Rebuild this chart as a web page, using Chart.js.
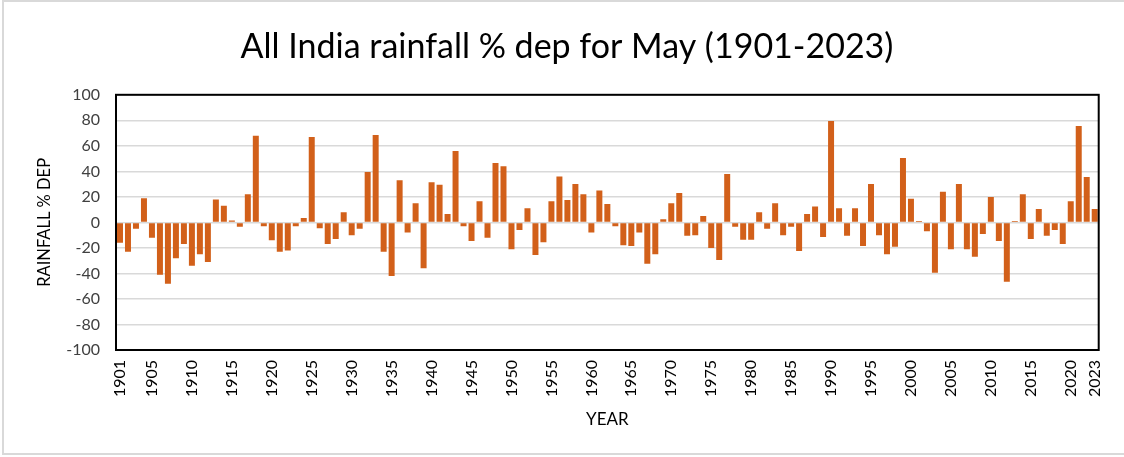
<!DOCTYPE html>
<html>
<head>
<meta charset="utf-8">
<script src="https://cdn.jsdelivr.net/npm/chart.js@4"></script>
<style>
  html, body { margin: 0; padding: 0; background: #fff; }
  #frame {
    position: absolute; left: 2px; top: 0; width: 1124px; height: 455px;
    border-left: 2px solid #d9d9d9; border-top: 2px solid #d9d9d9; border-bottom: 2px solid #d9d9d9;
    box-sizing: border-box;
  }
  #wrap { position: absolute; left: 0; top: 0; width: 1124px; height: 457px; }
</style>
</head>
<body>
<div id="frame"></div>
<div id="wrap"><canvas id="rainChart"></canvas></div>
<script>
// 年份 (1901-2023)
const years = Array.from({ length: 123 }, (_, i) => String(1901 + i));

// 五月全印度降雨距平 (%)，从图上读取的估计值
const depValues = [
  -16, -23, -5, 19, -12, -41, -48, -28, -17, -34,      // 1901-1910
  -25, -31, 18, 13, 1.5, -3.5, 22, 68, -3, -14,        // 1911-1920
  -23, -22, -3, 3.5, 67, -4.5, -17, -13, 8, -10,       // 1921-1930
  -5, 39.5, 68.5, -23, -42, 33, -8, 15, -36, 31.5,     // 1931-1940
  29.5, 6.5, 56, -3, -14.5, 16.5, -12, 46.5, 44, -21,  // 1941-1950
  -6, 11, -25.5, -15.5, 16.5, 36, 17.5, 30, 22, -8,    // 1951-1960
  25, 14.5, -3, -18, -18.5, -8, -32.5, -25, 2.5, 15,   // 1961-1970
  23, -10.5, -10, 5, -20, -29.5, 38, -3.5, -13.5, -13.5, // 1971-1980
  8, -5, 15, -10, -3.5, -22.5, 6.5, 12.5, -11.5, 79.5, // 1981-1990
  11, -10.5, 11, -18.5, 30, -10, -25, -19, 50.5, 18.5, // 1991-2000
  1, -7, -39.5, 24, -21, 30, -21, -27, -9, 20,         // 2001-2010
  -14.5, -46.5, 1, 22, -13, 10.5, -10.5, -6, -17, 16.5, // 2011-2020
  75.5, 35.5, 10.5                                     // 2021-2023
];

// 横轴上显示的年份
const xTickYears = ['1901', '1905', '1910', '1915', '1920', '1925', '1930', '1935', '1940',
  '1945', '1950', '1955', '1960', '1965', '1970', '1975', '1980', '1985', '1990', '1995',
  '2000', '2005', '2010', '2015', '2020', '2023'];

const FONT = 'Lato, "Open Sans", sans-serif';

// 绘图区外框
const plotBorder = {
  id: 'plotBorder',
  afterDatasetsDraw(chart) {
    const { ctx, chartArea } = chart;
    ctx.save();
    ctx.strokeStyle = '#000';
    ctx.lineWidth = 2;
    ctx.strokeRect(chartArea.left, chartArea.top, chartArea.right - chartArea.left, chartArea.bottom - chartArea.top);
    ctx.restore();
  }
};

const ctx = document.getElementById('rainChart');
new Chart(ctx, {
  type: 'bar',
  data: {
    labels: years,
    datasets: [{
      label: 'RAINFALL % DEP',
      data: depValues,
      backgroundColor: '#D2601A',
      borderWidth: 0,
      barPercentage: 0.75,
      categoryPercentage: 1.0
    }]
  },
  options: {
    responsive: true,
    maintainAspectRatio: false,
    animation: false,
    layout: { padding: { left: 31, right: 21, top: 0, bottom: 23 } },
    scales: {
      y: {
        min: -100,
        max: 100,
        ticks: {
          stepSize: 20,
          padding: 16,
          color: '#404040',
          font: { family: FONT, size: 16 }
        },
        grid: { color: '#d9d9d9', lineWidth: 1.5, drawTicks: false },
        border: { display: false },
        title: {
          display: true,
          text: 'RAINFALL % DEP',
          color: '#000',
          font: { family: FONT, size: 16.5 }
        },
        afterFit(scale) { scale.width = 85; }
      },
      x: {
        ticks: {
          autoSkip: false,
          maxRotation: 90,
          minRotation: 90,
          padding: 10,
          color: '#000',
          font: { family: FONT, size: 16 },
          callback: function(value) {
            const lab = this.getLabelForValue(value);
            return xTickYears.includes(lab) ? lab : null;
          }
        },
        grid: { display: false, drawTicks: false },
        border: { display: false },
        title: {
          display: true,
          text: 'YEAR',
          color: '#000',
          font: { family: FONT, size: 17 }
        },
        afterFit(scale) { scale.height = 84; }
      }
    },
    plugins: {
      legend: { display: false },
      tooltip: { enabled: false },
      title: {
        display: true,
        text: 'All India rainfall % dep for May (1901-2023)',
        color: '#000',
        font: { family: FONT, size: 34, weight: 'normal' },
        padding: { top: 27, bottom: 27 }
      }
    }
  },
  plugins: [plotBorder]
});
</script>
</body>
</html>
